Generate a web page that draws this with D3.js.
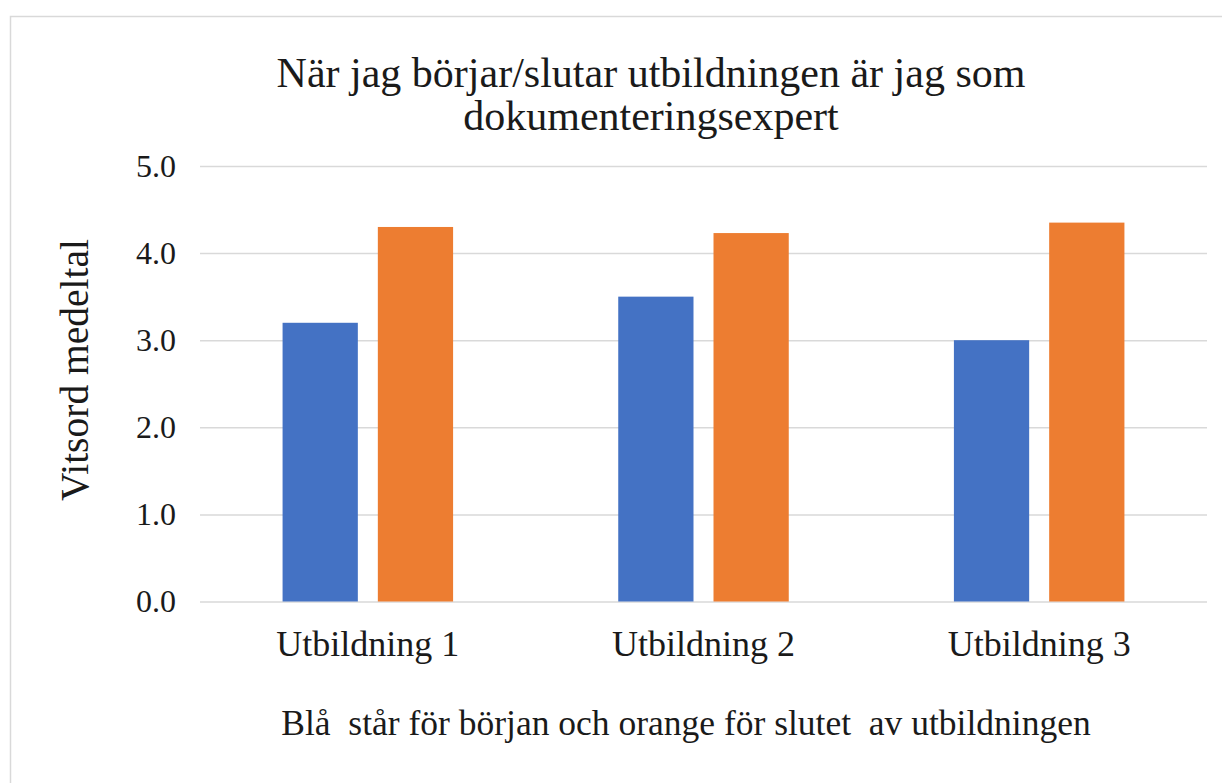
<!DOCTYPE html>
<meta charset="utf-8">
<script src="https://d3js.org/d3.v7.min.js"></script>
<style>
  body { margin: 0; background: #fff; }
  text { font-family: "Liberation Serif", "Times New Roman", serif; fill: #1a1a1a; }
</style>
<div id="chart"></div>
<script>
  // data
  const categories = ["Utbildning 1", "Utbildning 2", "Utbildning 3"];
  const seriesNames = ["Början", "Slutet"];
  const borjan = [3.2, 3.5, 3.0];
  const slutet = [4.3, 4.23, 4.35];
  const yTicks = [0, 1, 2, 3, 4, 5];
  const titleLines = ["När jag börjar/slutar utbildningen är jag som", "dokumenteringsexpert"];
  const yTitle = "Vitsord medeltal";
  const xTitle = "Blå  står för början och orange för slutet  av utbildningen";
  const colors = ["#4472C4", "#ED7D31"];

  const W = 1222, H = 783;
  const plot = { left: 200, right: 1207, top: 166, bottom: 601.5 };

  const svg = d3.select("#chart").append("svg")
    .attr("width", W)
    .attr("height", H);

  // chart area border
  svg.append("rect")
    .attr("x", 10.5).attr("y", 16.5)
    .attr("width", W + 20).attr("height", H + 20)
    .attr("fill", "#fff")
    .attr("stroke", "#d9d9d9")
    .attr("stroke-width", 1.5);

  const x0 = d3.scaleBand()
    .domain(categories)
    .range([plot.left, plot.right])
    .paddingInner(0)
    .paddingOuter(0);

  const outer = x0.bandwidth() * 0.246;
  const x1 = d3.scaleBand()
    .domain(seriesNames)
    .range([outer, x0.bandwidth() - outer])
    .paddingInner(0.21)
    .paddingOuter(0);

  const y = d3.scaleLinear()
    .domain([0, 5])
    .range([plot.bottom, plot.top]);

  // gridlines + y axis labels
  const yAxis = svg.append("g")
    .attr("transform", `translate(${plot.left},0)`)
    .call(d3.axisLeft(y).tickValues(yTicks).tickFormat(d3.format(".1f"))
      .tickSize(-(plot.right - plot.left)).tickPadding(24));
  yAxis.select(".domain").remove();
  yAxis.selectAll("line").attr("stroke", "#d9d9d9").attr("stroke-width", 1.5);
  yAxis.selectAll("text")
    .style("font-size", "32px")
    .attr("font-family", "Liberation Serif")
    .attr("fill", "#1a1a1a");

  // bars
  const rows = categories.map((c, i) => ({ cat: c, vals: [borjan[i], slutet[i]] }));
  const groups = svg.selectAll("g.grp")
    .data(rows)
    .enter()
    .append("g")
    .attr("class", "grp")
    .attr("transform", d => `translate(${x0(d.cat)},0)`);

  groups.selectAll("rect")
    .data(d => d.vals.map((v, j) => ({ key: seriesNames[j], v: v, j: j })))
    .enter()
    .append("rect")
    .attr("x", d => x1(d.key))
    .attr("y", d => y(d.v))
    .attr("width", x1.bandwidth())
    .attr("height", d => y(0) - y(d.v))
    .attr("fill", d => colors[d.j]);

  // x axis labels
  const xAxis = svg.append("g")
    .attr("transform", `translate(0,${plot.bottom})`)
    .call(d3.axisBottom(x0).tickSize(0).tickPadding(29));
  xAxis.select(".domain").remove();
  xAxis.selectAll("text")
    .style("font-size", "36px")
    .attr("font-family", "Liberation Serif")
    .attr("fill", "#1a1a1a");

  // title
  svg.append("g").selectAll("text")
    .data(titleLines)
    .enter()
    .append("text")
    .attr("x", 651)
    .attr("y", (d, i) => 87 + i * 43)
    .attr("text-anchor", "middle")
    .style("font-size", "42px")
    .text(d => d);

  // y axis title
  svg.append("text")
    .attr("transform", "translate(88,370) rotate(-90)")
    .attr("text-anchor", "middle")
    .style("font-size", "39.5px")
    .text(yTitle);

  // x axis title
  svg.append("text")
    .attr("x", 686)
    .attr("y", 735)
    .attr("text-anchor", "middle")
    .style("font-size", "35.5px")
    .style("white-space", "pre")
    .attr("xml:space", "preserve")
    .text(xTitle);
</script>
